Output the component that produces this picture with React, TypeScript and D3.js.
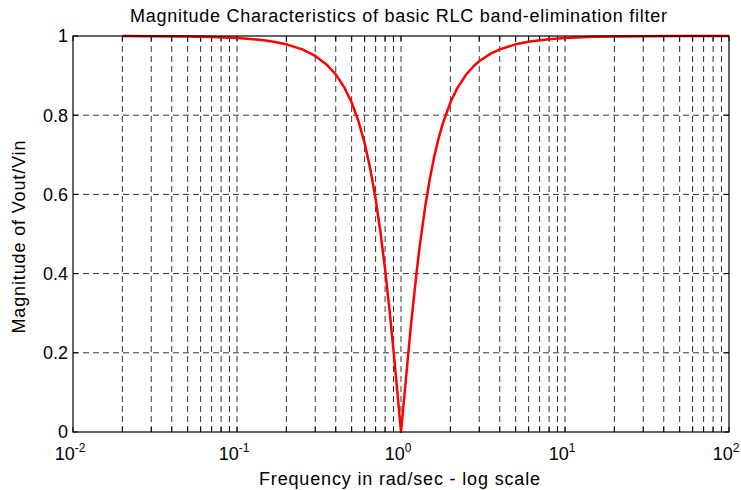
import React from "react";
import * as d3 from "d3";

const freqs = [0.02, 0.03, 0.05, 0.07, 0.1, 0.12, 0.15, 0.17, 0.2, 0.25, 0.3, 0.35, 0.4, 0.45, 0.5, 0.55, 0.6, 0.65, 0.7, 0.75, 0.8, 0.85, 0.9, 1.0, 1.15, 1.25, 1.3, 1.4, 1.5, 1.6, 1.7, 1.8, 2, 2.2, 2.5, 2.8, 3, 3.5, 4, 5, 6, 7, 8, 10, 15, 20, 30, 50, 100];
const mags = [1.0, 0.9996, 0.9988, 0.9975, 0.995, 0.9927, 0.9884, 0.985, 0.979, 0.9662, 0.9497, 0.9288, 0.9029, 0.8709, 0.832, 0.7852, 0.7295, 0.6642, 0.5889, 0.5039, 0.4104, 0.3103, 0.2065, 0, 0.27, 0.41, 0.4688, 0.5655, 0.6402, 0.698, 0.7435, 0.7795, 0.832, 0.8677, 0.9029, 0.9255, 0.9363, 0.9549, 0.9662, 0.979, 0.9856, 0.9895, 0.992, 0.9949, 0.9978, 0.9988, 0.9994, 0.9998, 1.0];
const xMajorExps = [-2, -1, 0, 1, 2];
const yTicks = [0, 0.2, 0.4, 0.6, 0.8, 1];
const yTickLabels = ["0", "0.2", "0.4", "0.6", "0.8", "1"];
const titleText = "Magnitude Characteristics of basic RLC band-elimination filter";
const xLabelText = "Frequency in rad/sec - log scale";
const yLabelText = "Magnitude of Vout/Vin";

const W = 741, H = 490;
const L = 73, R = 729, T = 36, B = 432;
const font = "'Liberation Sans', Arial, Helvetica, sans-serif";

export default function App() {
  const x = d3.scaleLog().domain([0.01, 100]).range([L, R]);
  const y = d3.scaleLinear().domain([0, 1]).range([B, T]);
  const minor: number[] = [];
  for (let e = -2; e < 2; e++) {
    for (let k = 1; k <= 9; k++) minor.push(k * Math.pow(10, e));
  }
  minor.push(100);
  const line = d3.line<number>().x((_, i) => x(freqs[i])).y((d) => y(d));
  const tl = 5;
  return (
    <svg width={W} height={H} style={{ position: "absolute", left: 0, top: 0, background: "#fff" }}>
      <rect x={0} y={0} width={W} height={H} fill="#fff" />
      {minor.filter((v) => v > 0.01 && v < 100).map((v, i) => (
        <line key={"vg" + i} x1={x(v)} x2={x(v)} y1={T} y2={B} stroke="#000" strokeWidth={0.8} strokeDasharray="6,4" />
      ))}
      {yTicks.filter((v) => v > 0 && v < 1).map((v, i) => (
        <line key={"hg" + i} x1={L} x2={R} y1={y(v)} y2={y(v)} stroke="#000" strokeWidth={0.8} strokeDasharray="6,4" />
      ))}
      {minor.map((v, i) => (
        <g key={"xt" + i}>
          <line x1={x(v)} x2={x(v)} y1={B} y2={B - tl} stroke="#000" strokeWidth={1} />
          <line x1={x(v)} x2={x(v)} y1={T} y2={T + tl} stroke="#000" strokeWidth={1} />
        </g>
      ))}
      {yTicks.map((v, i) => (
        <g key={"yt" + i}>
          <line x1={L} x2={L + tl} y1={y(v)} y2={y(v)} stroke="#000" strokeWidth={1} />
          <line x1={R} x2={R - tl} y1={y(v)} y2={y(v)} stroke="#000" strokeWidth={1} />
        </g>
      ))}
      <path d={line(mags) || ""} fill="none" stroke="#ff0000" strokeWidth={2.5} strokeLinejoin="round" />
      <rect x={L} y={T} width={R - L} height={B - T} fill="none" stroke="#000" strokeWidth={1.2} />
      {yTicks.map((v, i) => (
        <text key={"yl" + i} x={L - 5} y={y(v)} dy="0.35em" textAnchor="end" fontFamily={font} fontSize={18} fill="#000">
          {yTickLabels[i]}
        </text>
      ))}
      {xMajorExps.map((e, i) => (
        <text key={"xl" + i} x={x(Math.pow(10, e)) - 3} y={460} textAnchor="middle" fontFamily={font} fontSize={18} fill="#000">
          10
          <tspan dy={-8} fontSize={12}>{String(e)}</tspan>
        </text>
      ))}
      <text x={398.5} y={22} textAnchor="middle" fontFamily={font} fontSize={18} textLength={537} lengthAdjust="spacing" fill="#000">{titleText}</text>
      <text x={399.5} y={485} textAnchor="middle" fontFamily={font} fontSize={18} textLength={281} lengthAdjust="spacing" fill="#000">{xLabelText}</text>
      <text transform={`translate(25, 237) rotate(-90)`} textAnchor="middle" fontFamily={font} fontSize={18} textLength={193} lengthAdjust="spacing" fill="#000">{yLabelText}</text>
    </svg>
  );
}
